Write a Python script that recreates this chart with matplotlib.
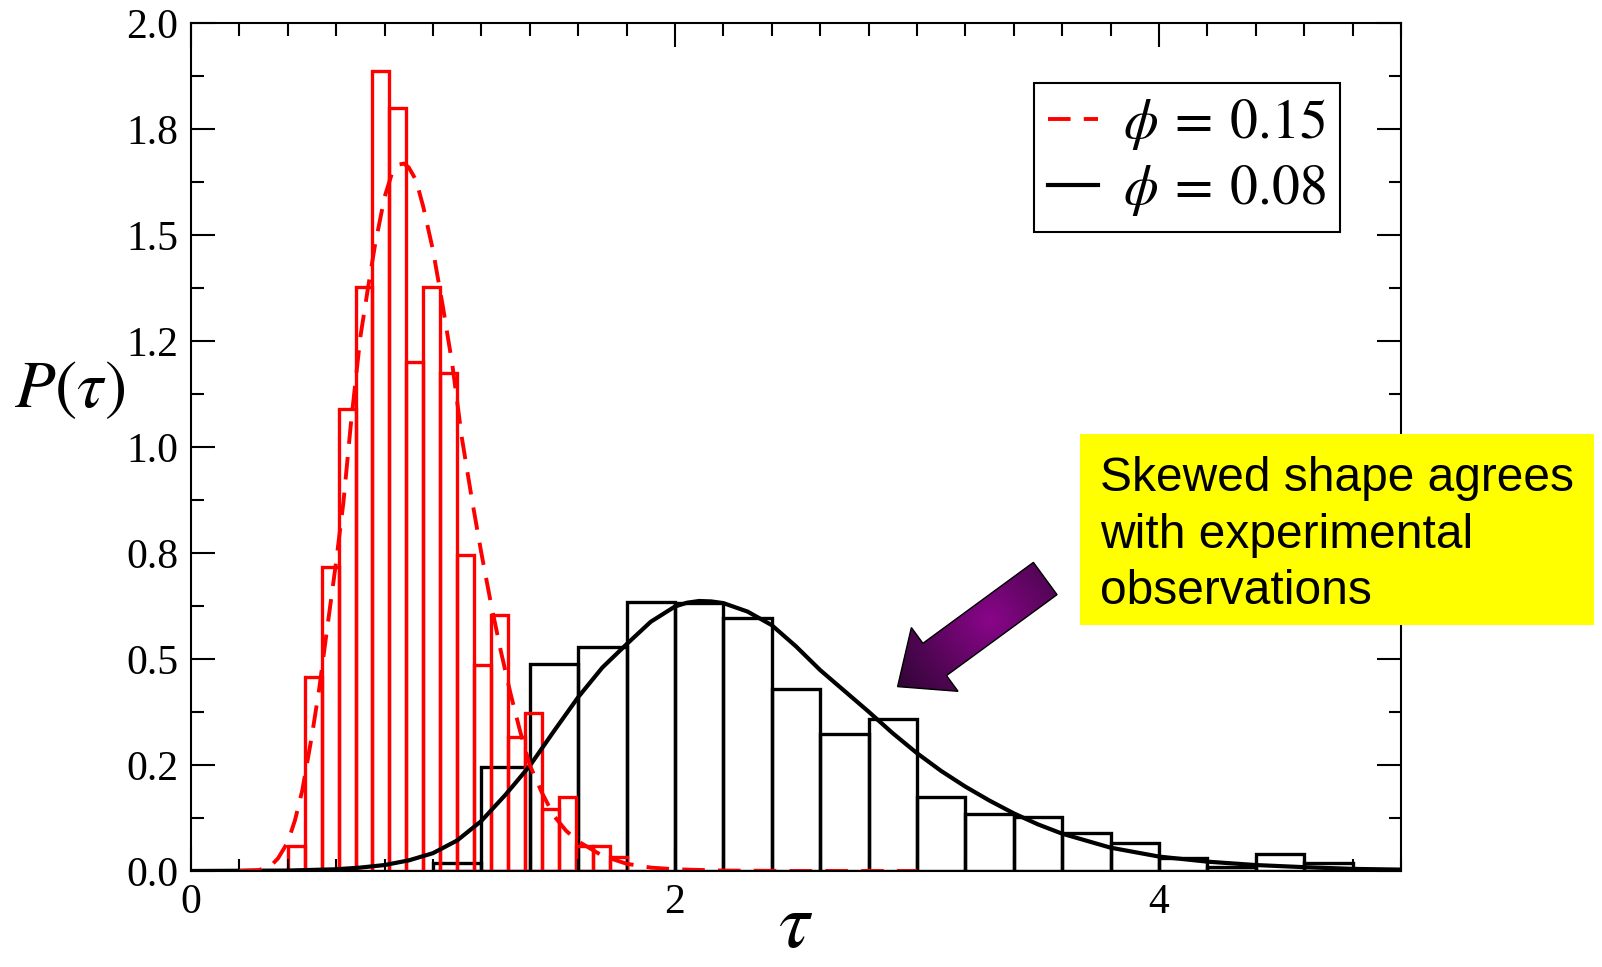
import numpy as np
import matplotlib
matplotlib.use("Agg")
import matplotlib.pyplot as plt
from matplotlib.patches import Polygon, Rectangle
from matplotlib.ticker import MultipleLocator, FormatStrFormatter

# phi = 0.15 histogram (narrow bins)
red_bin_left = [0.40, 0.47, 0.54, 0.61, 0.68, 0.75, 0.82, 0.89, 0.96, 1.03,
                1.10, 1.17, 1.24, 1.31, 1.38, 1.45, 1.52, 1.59, 1.66, 1.73]
red_bin_width = 0.07
red_hist = [0.060, 0.458, 0.718, 1.089, 1.377, 1.888, 1.801, 1.201, 1.377, 1.176,
            0.745, 0.486, 0.604, 0.317, 0.372, 0.146, 0.174, 0.059, 0.059, 0.032]

# phi = 0.08 histogram
black_bin_left = [1.0, 1.2, 1.4, 1.6, 1.8, 2.0, 2.2, 2.4, 2.6, 2.8,
                  3.0, 3.2, 3.4, 3.6, 3.8, 4.0, 4.2, 4.4, 4.6, 4.8]
black_bin_width = 0.2
black_hist = [0.020, 0.246, 0.488, 0.528, 0.635, 0.633, 0.596, 0.429, 0.323, 0.359,
              0.175, 0.134, 0.127, 0.089, 0.067, 0.031, 0.010, 0.040, 0.018, 0.004]

# fitted curves
red_fit_tau = [0.20, 0.28, 0.33, 0.36, 0.40, 0.43, 0.46, 0.50, 0.53, 0.56,
               0.60, 0.63, 0.66, 0.70, 0.73, 0.76, 0.80, 0.83, 0.86, 0.88,
               0.90, 0.93, 0.96, 1.00, 1.04, 1.08, 1.12, 1.16, 1.20, 1.24,
               1.28, 1.32, 1.36, 1.40, 1.45, 1.50, 1.55, 1.60, 1.70, 1.80,
               1.90, 2.00, 2.20, 2.50, 3.00]
red_fit_p = [0.000, 0.002, 0.012, 0.030, 0.068, 0.120, 0.190, 0.320, 0.430, 0.560,
             0.730, 0.870, 1.050, 1.260, 1.370, 1.475, 1.590, 1.645, 1.667, 1.669,
             1.660, 1.630, 1.567, 1.465, 1.335, 1.195, 1.020, 0.880, 0.750, 0.630,
             0.520, 0.420, 0.330, 0.250, 0.185, 0.130, 0.095, 0.070, 0.036, 0.017,
             0.008, 0.004, 0.001, 0.000, 0.000]

black_fit_tau = [0.0, 0.4, 0.6, 0.7, 0.8, 0.9, 1.0, 1.1, 1.2, 1.3,
                 1.4, 1.5, 1.6, 1.7, 1.8, 1.9, 2.0, 2.05, 2.1, 2.15,
                 2.2, 2.3, 2.4, 2.5, 2.6, 2.7, 2.8, 2.9, 3.0, 3.1,
                 3.2, 3.3, 3.4, 3.5, 3.6, 3.8, 4.0, 4.2, 4.4, 4.6,
                 4.8, 5.0]
black_fit_p = [0.000, 0.001, 0.004, 0.008, 0.014, 0.025, 0.042, 0.072, 0.118, 0.180,
               0.248, 0.330, 0.410, 0.480, 0.535, 0.588, 0.624, 0.633, 0.637, 0.636,
               0.632, 0.612, 0.580, 0.530, 0.474, 0.425, 0.376, 0.325, 0.278, 0.236,
               0.199, 0.166, 0.136, 0.110, 0.088, 0.055, 0.034, 0.022, 0.014, 0.009,
               0.005, 0.003]

legend_labels = [r"$\phi\:=\:0.15$", r"$\phi\:=\:0.08$"]
note_text = "Skewed shape agrees\nwith experimental\nobservations"

plt.rcParams["font.family"] = ["Liberation Serif", "DejaVu Serif"]
plt.rcParams["mathtext.fontset"] = "stix"

W, H = 1602, 967
fig = plt.figure(figsize=(W / 100, H / 100), dpi=100)
ax = fig.add_axes([0.1192, 0.0993, 0.7553, 0.8766])

ax.bar(black_bin_left, black_hist, width=black_bin_width, align="edge",
       fill=False, edgecolor="black", linewidth=2.4)
ax.bar(red_bin_left, red_hist, width=red_bin_width, align="edge",
       fill=False, edgecolor="red", linewidth=2.4)
ax.plot(black_fit_tau, black_fit_p, color="black", linewidth=3.0,
        label=legend_labels[1])
ax.plot(red_fit_tau, red_fit_p, color="red", linewidth=2.8,
        dashes=(5.8, 3.4), label=legend_labels[0])

ax.set_xlim(0, 5)
ax.set_ylim(0, 2.0)
ax.xaxis.set_major_locator(MultipleLocator(2))
ax.xaxis.set_minor_locator(MultipleLocator(0.2))
ax.yaxis.set_major_locator(MultipleLocator(0.25))
ax.yaxis.set_minor_locator(MultipleLocator(0.125))
ax.yaxis.set_major_formatter(FormatStrFormatter("%.1f"))
ax.tick_params(which="both", direction="in", top=True, right=True,
               width=1.5, labelsize=30, pad=9)
ax.tick_params(which="major", length=17)
ax.tick_params(which="minor", length=9)
for sp in ax.spines.values():
    sp.set_linewidth(1.5)

ax.set_xlabel(r"$\tau$", fontsize=56, va="center")
ax.xaxis.set_label_coords(0.5, -0.068)
ax.set_ylabel(r"$P(\tau)$", fontsize=48, rotation=0, ha="center", va="center")
ax.yaxis.set_label_coords(-0.1, 0.567)

handles, labels = ax.get_legend_handles_labels()
leg = ax.legend(handles[::-1], labels[::-1], loc="upper right",
                bbox_to_anchor=(0.9496, 0.929), borderaxespad=0,
                fontsize=40, frameon=True, fancybox=False, edgecolor="black",
                framealpha=1, borderpad=0.25, labelspacing=0.2,
                handlelength=0.9, handletextpad=0.45)
leg.get_frame().set_linewidth(1.5)

# yellow note box
fig.add_artist(Rectangle((1080 / W, 1 - 625 / H), 514 / W, 191 / H,
                         transform=fig.transFigure, facecolor="#ffff00",
                         edgecolor="none", zorder=4))
fig.text(1100 / W, 1 - 535 / H, note_text, fontsize=34.5, ha="left", va="center",
         family="Liberation Sans", linespacing=1.32, zorder=5)

# purple block arrow pointing at the black tail
over = fig.add_axes([0, 0, 1, 1], zorder=5)
over.set_xlim(0, W)
over.set_ylim(0, H)
over.axis("off")
over.patch.set_alpha(0)

tip = np.array(ax.transData.transform((2.92, 0.435)))
tail = np.array(ax.transData.transform((3.53, 0.69)))
u = (tail - tip) / np.linalg.norm(tail - tip)
n = np.array([-u[1], u[0]])
shaft_w, head_w, head_len = 40, 79, 46
base = tip + u * head_len
pts = [tip, base + n * head_w / 2, base + n * shaft_w / 2, tail + n * shaft_w / 2,
       tail - n * shaft_w / 2, base - n * shaft_w / 2, base - n * head_w / 2]
poly = Polygon(pts, closed=True, facecolor="none", edgecolor="black", linewidth=1.0, zorder=3)
over.add_patch(poly)

pts = np.array(pts)
x0, y0 = pts.min(axis=0) - 2
x1, y1 = pts.max(axis=0) + 2
gx, gy = np.meshgrid(np.linspace(x0, x1, 200), np.linspace(y0, y1, 200))
center = tip + (tail - tip) * 0.62
r = np.hypot(gx - center[0], gy - center[1]) / 110
r = np.clip(r, 0, 1)
bright = np.array([0.54, 0.02, 0.54])
dark = np.array([0.20, 0.02, 0.22])
img = bright[None, None, :] * (1 - r[..., None]) + dark[None, None, :] * r[..., None]
im = over.imshow(img, extent=[x0, x1, y0, y1], origin="lower",
                 interpolation="bilinear", zorder=2, aspect="auto")
im.set_clip_path(poly)
over.set_xlim(0, W)
over.set_ylim(0, H)

fig.savefig("out.png", dpi=100)
